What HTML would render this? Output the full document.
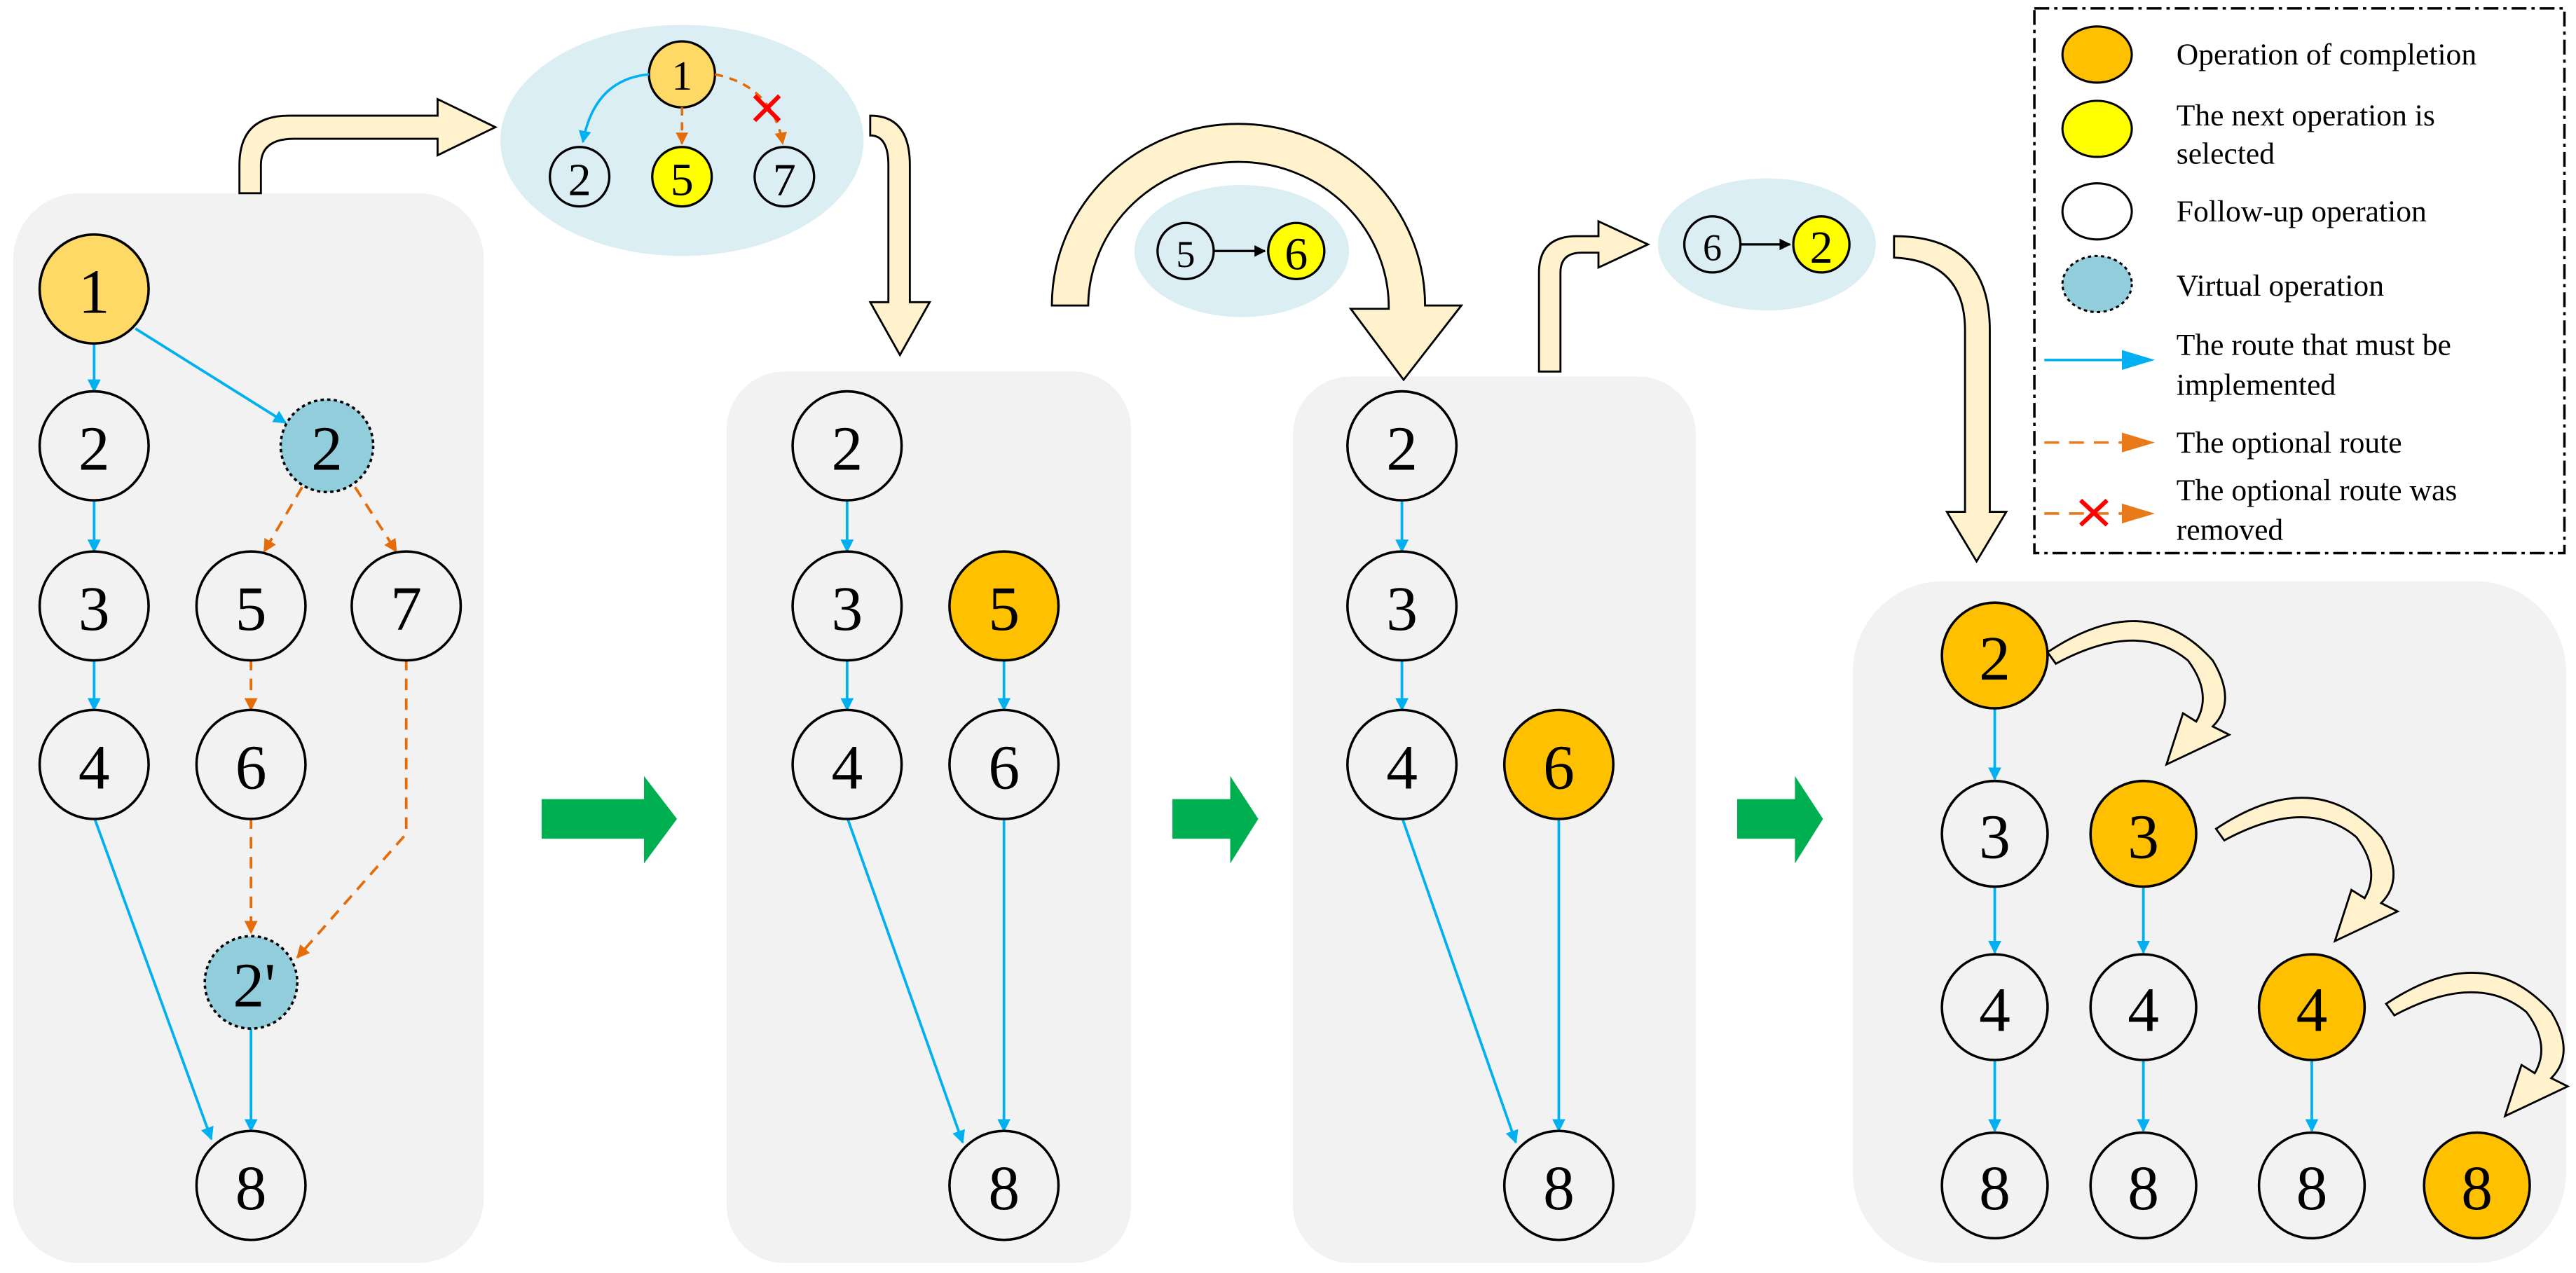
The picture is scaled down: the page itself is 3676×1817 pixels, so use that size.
<!DOCTYPE html>
<html><head><meta charset="utf-8"><style>
html,body{margin:0;padding:0;background:#fff;}
svg{display:block;}
.n{font-family:"Liberation Serif",serif;font-size:38px;text-anchor:middle;dominant-baseline:central;fill:#000;}
.s{font-family:"Liberation Serif",serif;font-size:28px;text-anchor:middle;dominant-baseline:central;fill:#000;}
.l{font-family:"Liberation Serif",serif;font-size:18.5px;fill:#000;}
</style></head><body>
<svg width="3676" height="1817" viewBox="0 0 1560 771" xmlns="http://www.w3.org/2000/svg">
<defs>
<marker id="b" viewBox="0 0 10 10" refX="9" refY="5" markerWidth="5" markerHeight="5" orient="auto"><path d="M0,0L10,5L0,10Z" fill="#00B0F0"/></marker>
<marker id="o" viewBox="0 0 10 10" refX="9" refY="5" markerWidth="5" markerHeight="5" orient="auto"><path d="M0,0L10,5L0,10Z" fill="#E46C0A"/></marker>
<marker id="k" viewBox="0 0 10 10" refX="9" refY="5" markerWidth="5" markerHeight="5" orient="auto"><path d="M0,0L10,5L0,10Z" fill="#000"/></marker>
</defs>
<g fill="#f2f2f2">
<rect x="8" y="117" width="285" height="648" rx="40"/>
<rect x="440" y="225" width="245" height="540" rx="35"/>
<rect x="783" y="228" width="244" height="537" rx="35"/>
<rect x="1122" y="352" width="432" height="413" rx="55"/>
</g>
<g stroke="#00B0F0" stroke-width="1.6" fill="none" marker-end="url(#b)">
<line x1="57" y1="208" x2="57" y2="237"/>
<line x1="82" y1="199" x2="173" y2="256"/>
<line x1="57" y1="302" x2="57" y2="334"/>
<line x1="57" y1="399" x2="57" y2="430"/>
<line x1="57" y1="495" x2="128" y2="690"/>
<line x1="152" y1="623" x2="152" y2="685"/>
<line x1="513" y1="302" x2="513" y2="334"/>
<line x1="513" y1="399" x2="513" y2="430"/>
<line x1="608" y1="399" x2="608" y2="430"/>
<line x1="513" y1="495" x2="583" y2="692"/>
<line x1="608" y1="495" x2="608" y2="685"/>
<line x1="849" y1="302" x2="849" y2="334"/>
<line x1="849" y1="399" x2="849" y2="430"/>
<line x1="849" y1="495" x2="918" y2="692"/>
<line x1="944" y1="495" x2="944" y2="685"/>
<line x1="1208" y1="429" x2="1208" y2="472"/>
<line x1="1208" y1="537" x2="1208" y2="577"/>
<line x1="1208" y1="642" x2="1208" y2="685"/>
<line x1="1298" y1="537" x2="1298" y2="577"/>
<line x1="1298" y1="642" x2="1298" y2="685"/>
<line x1="1400" y1="642" x2="1400" y2="685"/>
</g>
<g stroke="#E46C0A" stroke-width="1.6" fill="none" stroke-dasharray="7 5" marker-end="url(#o)">
<line x1="183" y1="295" x2="160" y2="334"/>
<line x1="215" y1="295" x2="240" y2="334"/>
<line x1="152" y1="399" x2="152" y2="430"/>
<line x1="152" y1="495" x2="152" y2="565"/>
<path d="M246,399 L246,505 L180,580"/>
</g>
<g stroke="#000" stroke-width="1.5">
<circle cx="57" cy="175" r="33" fill="#FFD966"/>
<circle cx="57" cy="270" r="33" fill="#f2f2f2"/>
<circle cx="57" cy="367" r="33" fill="#f2f2f2"/>
<circle cx="57" cy="463" r="33" fill="#f2f2f2"/>
<circle cx="198" cy="270" r="28" fill="#92CDDC" stroke-dasharray="2 2"/>
<circle cx="152" cy="367" r="33" fill="#f2f2f2"/>
<circle cx="246" cy="367" r="33" fill="#f2f2f2"/>
<circle cx="152" cy="463" r="33" fill="#f2f2f2"/>
<circle cx="152" cy="595" r="28" fill="#92CDDC" stroke-dasharray="2 2"/>
<circle cx="152" cy="718" r="33" fill="#f2f2f2"/>
<circle cx="513" cy="270" r="33" fill="#f2f2f2"/>
<circle cx="513" cy="367" r="33" fill="#f2f2f2"/>
<circle cx="608" cy="367" r="33" fill="#FFC000"/>
<circle cx="513" cy="463" r="33" fill="#f2f2f2"/>
<circle cx="608" cy="463" r="33" fill="#f2f2f2"/>
<circle cx="608" cy="718" r="33" fill="#f2f2f2"/>
<circle cx="849" cy="270" r="33" fill="#f2f2f2"/>
<circle cx="849" cy="367" r="33" fill="#f2f2f2"/>
<circle cx="849" cy="463" r="33" fill="#f2f2f2"/>
<circle cx="944" cy="463" r="33" fill="#FFC000"/>
<circle cx="944" cy="718" r="33" fill="#f2f2f2"/>
<circle cx="1208" cy="397" r="32" fill="#FFC000"/>
<circle cx="1208" cy="505" r="32" fill="#f2f2f2"/>
<circle cx="1298" cy="505" r="32" fill="#FFC000"/>
<circle cx="1208" cy="610" r="32" fill="#f2f2f2"/>
<circle cx="1298" cy="610" r="32" fill="#f2f2f2"/>
<circle cx="1400" cy="610" r="32" fill="#FFC000"/>
<circle cx="1208" cy="718" r="32" fill="#f2f2f2"/>
<circle cx="1298" cy="718" r="32" fill="#f2f2f2"/>
<circle cx="1400" cy="718" r="32" fill="#f2f2f2"/>
<circle cx="1500" cy="718" r="32" fill="#FFC000"/>
</g>
<g>
<text x="57" y="177" class="n">1</text><text x="57" y="272" class="n">2</text><text x="57" y="369" class="n">3</text><text x="57" y="465" class="n">4</text>
<text x="198" y="272" class="n">2</text><text x="152" y="369" class="n">5</text><text x="246" y="369" class="n">7</text><text x="152" y="465" class="n">6</text>
<text x="154" y="597" class="n">2'</text><text x="152" y="720" class="n">8</text>
<text x="513" y="272" class="n">2</text><text x="513" y="369" class="n">3</text><text x="608" y="369" class="n">5</text><text x="513" y="465" class="n">4</text><text x="608" y="465" class="n">6</text><text x="608" y="720" class="n">8</text>
<text x="849" y="272" class="n">2</text><text x="849" y="369" class="n">3</text><text x="849" y="465" class="n">4</text><text x="944" y="465" class="n">6</text><text x="944" y="720" class="n">8</text>
<text x="1208" y="399" class="n">2</text><text x="1208" y="507" class="n">3</text><text x="1298" y="507" class="n">3</text><text x="1208" y="612" class="n">4</text><text x="1298" y="612" class="n">4</text><text x="1400" y="612" class="n">4</text>
<text x="1208" y="720" class="n">8</text><text x="1298" y="720" class="n">8</text><text x="1400" y="720" class="n">8</text><text x="1500" y="720" class="n">8</text>
</g>
<ellipse cx="413" cy="85" rx="110" ry="70" fill="#DAEEF3"/>
<ellipse cx="752" cy="152" rx="65" ry="40" fill="#DAEEF3"/>
<ellipse cx="1070" cy="148" rx="66" ry="40" fill="#DAEEF3"/>
<g stroke="#000" stroke-width="1.4">
<circle cx="413" cy="45" r="20" fill="#FFD966"/>
<circle cx="351" cy="107" r="18" fill="#DAEEF3"/>
<circle cx="413" cy="107" r="18" fill="#FFFF00"/>
<circle cx="475" cy="107" r="18" fill="#DAEEF3"/>
<circle cx="718" cy="152" r="17" fill="#DAEEF3"/>
<circle cx="785" cy="152" r="17" fill="#FFFF00"/>
<circle cx="1037" cy="148" r="17" fill="#DAEEF3"/>
<circle cx="1103" cy="148" r="17" fill="#FFFF00"/>
<line x1="735" y1="152" x2="766" y2="152" marker-end="url(#k)"/>
<line x1="1054" y1="148" x2="1084" y2="148" marker-end="url(#k)"/>
</g>
<g stroke="#00B0F0" stroke-width="1.5" fill="none" marker-end="url(#b)"><path d="M393,45 Q360,48 353,86"/></g>
<g stroke="#E46C0A" stroke-width="1.5" fill="none" stroke-dasharray="5 4" marker-end="url(#o)"><line x1="413" y1="65" x2="413" y2="87"/><path d="M433,45 Q468,52 474,87"/></g>
<g stroke="#f00" stroke-width="2.6"><line x1="457" y1="58" x2="472" y2="73"/><line x1="472" y1="58" x2="457" y2="73"/></g>
<text x="413" y="46" class="s" style="font-size:25px">1</text>
<text x="351" y="109" class="s">2</text><text x="413" y="109" class="s">5</text><text x="475" y="109" class="s">7</text>
<text x="718" y="154" class="s" style="font-size:23px">5</text><text x="785" y="154" class="s">6</text>
<text x="1037" y="150" class="s" style="font-size:23px">6</text><text x="1103" y="150" class="s">2</text>
<g fill="#FFF2CC" stroke="#000" stroke-width="1.2">
<path d="M145,117 L145,100 Q145,70 175,70 L265,70 L265,60 L300,77 L265,94 L265,84 L178,84 Q158,84 158,100 L158,117 Z"/>
<path d="M527,70 Q551,70 551,100 L551,183 L563,183 L545,215 L527,183 L538,183 L538,100 Q538,82 527,82 Z"/>
<path d="M637,185 A113,110 0 0 1 863,185 L885,185 L850,230 L818,187 L841,187 A91,88 0 0 0 659,185 Z"/>
<path d="M932,225 L932,165 Q932,143 955,143 L968,143 L968,134 L998,148 L968,162 L968,153 L958,153 Q945,153 945,165 L945,225 Z"/>
<path d="M1147,143 Q1205,143 1205,200 L1205,310 L1215,310 L1197,340 L1179,310 L1190,310 L1190,200 Q1190,158 1147,156 Z"/>
<path d="M1240,395 Q1300,355 1340,400 Q1355,425 1340,440 L1350,445 L1312,463 L1322,432 L1330,437 Q1340,420 1325,400 Q1295,375 1245,402 Z"/>
<path d="M1342,502 Q1402,462 1442,507 Q1457,532 1442,547 L1452,552 L1414,570 L1424,539 L1432,544 Q1442,527 1427,507 Q1397,482 1347,509 Z"/>
<path d="M1445,608 Q1505,568 1545,613 Q1560,638 1545,653 L1555,658 L1517,676 L1527,645 L1535,650 Q1545,633 1530,613 Q1500,588 1450,615 Z"/>
</g>
<g fill="#00B050">
<path d="M328,484 L390,484 L390,470 L410,496 L390,523 L390,508 L328,508 Z"/>
<path d="M710,484 L745,484 L745,470 L762,496 L745,523 L745,508 L710,508 Z"/>
<path d="M1052,484 L1087,484 L1087,470 L1104,496 L1087,523 L1087,508 L1052,508 Z"/>
</g>
<rect x="1232" y="5" width="321" height="330" fill="#fff" stroke="#000" stroke-width="1.5" stroke-dasharray="9 3 2 3"/>
<g stroke="#000" stroke-width="1.3">
<ellipse cx="1270" cy="33" rx="21" ry="17" fill="#FFC000"/>
<ellipse cx="1270" cy="78" rx="21" ry="17" fill="#FFFF00"/>
<ellipse cx="1270" cy="128" rx="21" ry="17" fill="#fff"/>
<ellipse cx="1270" cy="172" rx="21" ry="17" fill="#92CDDC" stroke-dasharray="2 2"/>
</g>
<line x1="1238" y1="218" x2="1300" y2="218" stroke="#00B0F0" stroke-width="1.5"/><path d="M1285,212 L1305,218 L1285,224Z" fill="#00B0F0"/>
<line x1="1238" y1="268" x2="1285" y2="268" stroke="#E97A1A" stroke-width="1.5" stroke-dasharray="9 6"/><path d="M1285,262 L1305,268 L1285,274Z" fill="#E97A1A"/>
<line x1="1238" y1="311" x2="1285" y2="311" stroke="#E97A1A" stroke-width="1.5" stroke-dasharray="9 6"/><path d="M1285,305 L1305,311 L1285,317Z" fill="#E97A1A"/>
<g stroke="#f00" stroke-width="2.6"><line x1="1260" y1="303" x2="1276" y2="318"/><line x1="1276" y1="303" x2="1260" y2="318"/></g>
<text x="1318" y="39" class="l">Operation of completion</text>
<text x="1318" y="76" class="l">The next operation is</text>
<text x="1318" y="99" class="l">selected</text>
<text x="1318" y="134" class="l">Follow-up operation</text>
<text x="1318" y="179" class="l">Virtual operation</text>
<text x="1318" y="215" class="l">The route that must be</text>
<text x="1318" y="239" class="l">implemented</text>
<text x="1318" y="274" class="l">The optional route</text>
<text x="1318" y="303" class="l">The optional route was</text>
<text x="1318" y="327" class="l">removed</text>
</svg>
</body></html>
